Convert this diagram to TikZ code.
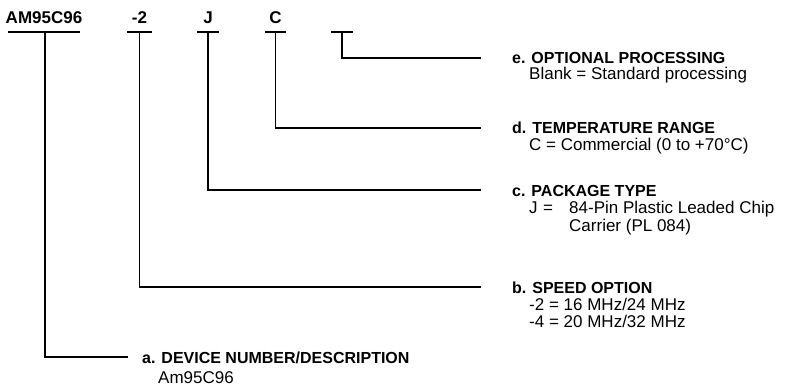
\documentclass[tikz,border=0pt]{standalone}
\usepackage{fontspec}
\setmainfont{Liberation Sans}
\newcommand\pncode{\fontsize{17}{20}\selectfont\bfseries}
\newcommand\pnhead{\fontsize{16}{20}\selectfont\bfseries}
\newcommand\pndesc{\fontsize{17}{20}\selectfont}
\tikzset{
  code/.style={font=\pncode, anchor=base, inner sep=0pt},
  head/.style={font=\pnhead, anchor=base west, inner sep=0pt, text height=12pt, text depth=0pt},
  desc/.style={font=\pndesc, anchor=base west, inner sep=0pt},
  rule/.style={line width=1.8pt},
}
\begin{document}
\begin{tikzpicture}[x=1pt,y=-1pt]
\useasboundingbox (0,0) rectangle (786,390);
% order code fields
\node[code] (cdev) at (44,24) {AM95C96};
\node[code] (cspeed) at (139.5,24) {-2};
\node[code] (cpkg) at (208,24) {J};
\node[code] (ctemp) at (275.5,24) {C};
\coordinate (tdev) at (45,32);
\coordinate (tspeed) at (139.5,32);
\coordinate (tpkg) at (208,32);
\coordinate (ttemp) at (275.5,32);
\coordinate (topt) at (342,32);
\draw[rule] ([xshift=-37pt]tdev) -- ([xshift=35pt]tdev);
\draw[rule] ([xshift=-12.5pt]tspeed) -- ([xshift=12.5pt]tspeed);
\draw[rule] ([xshift=-11pt]tpkg) -- ([xshift=11pt]tpkg);
\draw[rule] ([xshift=-10.5pt]ttemp) -- ([xshift=10.5pt]ttemp);
\draw[rule] ([xshift=-11pt]topt) -- ([xshift=11pt]topt);
% descriptions
\node[head] (hopt) at (512,64) {e. OPTIONAL PROCESSING};
\node[desc] at (529,80) {Blank = Standard processing};
\node[head] (htemp) at (512,134) {d. TEMPERATURE RANGE};
\node[desc] at (529,150) {C = Commercial (0 to +70°C)};
\node[head] (hpkg) at (512,196) {c. PACKAGE TYPE};
\node[desc] at (529,213) {\makebox[14pt][l]{J}\makebox[26pt][l]{=}84-Pin Plastic Leaded Chip};
\node[desc] at (569,231) {Carrier (PL 084)};
\node[head] (hspeed) at (512,293) {b. SPEED OPTION};
\node[desc] at (529,310) {-2 = 16 MHz/24 MHz};
\node[desc] at (529,327) {-4 = 20 MHz/32 MHz};
\node[head] (hdev) at (142,363) {a. DEVICE NUMBER/DESCRIPTION};
\node[desc] at (158,383) {Am95C96};
% connectors
\draw[rule, shorten >=31pt] (topt) |- (hopt.west);
\draw[rule, shorten >=31pt] (ttemp) |- (htemp.west);
\draw[rule, shorten >=31pt] (tpkg) |- (hpkg.west);
\draw[rule, shorten >=31pt] (tspeed) |- (hspeed.west);
\draw[rule, shorten >=14pt] (tdev) |- (hdev.west);
\end{tikzpicture}
\end{document}
